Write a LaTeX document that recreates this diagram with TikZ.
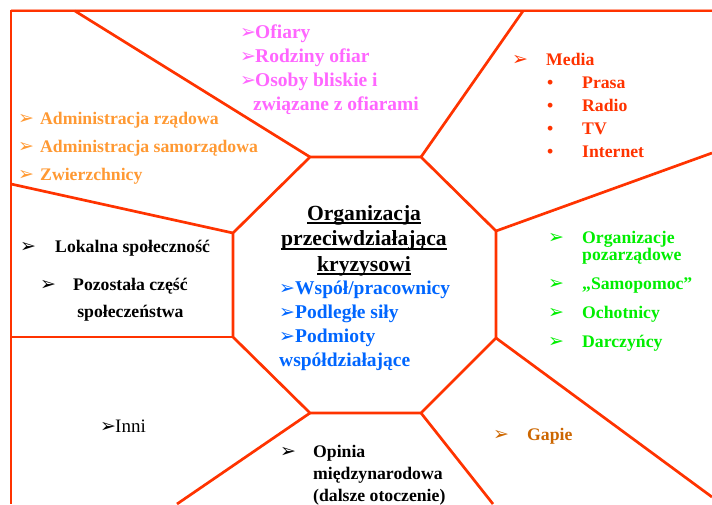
\documentclass[tikz,border=0pt]{standalone}
\definecolor{lineRed}{RGB}{255, 51, 0}
\definecolor{adminOrange}{RGB}{255, 153, 51}
\definecolor{victimPink}{RGB}{255, 102, 255}
\definecolor{mediaRed}{RGB}{255, 51, 0}
\definecolor{orgBlue}{RGB}{0, 102, 255}
\definecolor{ngoGreen}{RGB}{0, 238, 0}
\definecolor{gapieBrown}{RGB}{204, 102, 0}
\usepackage{fontspec}
\setmainfont{Liberation Serif}
\newfontfamily\symfont{DejaVu Sans}
\usepackage{tikz}
\usetikzlibrary{positioning}

\newcommand{\arrhd}{{\symfont\fontsize{19}{19}\selectfont ➢}}
\newcommand{\bitem}[2]{\makebox[#1][l]{\arrhd}#2}
\newcommand{\uln}[1]{\setbox0\hbox{#1}\rlap{\rule[-4pt]{\wd0}{1.6pt}}\box0}

\begin{document}
\begin{tikzpicture}[
    x=1pt, y=-1pt,
    frameline/.style={draw=lineRed, line width=2.7pt},
    octline/.style={draw=lineRed, line width=2.7pt, line join=miter},
    itembox/.style={inner sep=0pt, anchor=base west, align=left,
                    font=\bfseries\fontsize{17.7}{23}\selectfont},
  ]
    \useasboundingbox (0,0) rectangle (712,504);

    % frame
    \draw[draw=lineRed!45, line width=1pt] (11,9) -- (712,9);
    \draw[frameline] (712,11) -- (11,11) -- (11,504);

    % octagon corners
    \coordinate (V1) at (310,157);
    \coordinate (V2) at (421,157);
    \coordinate (V3) at (496,231);
    \coordinate (V4) at (496,338);
    \coordinate (V5) at (421,413);
    \coordinate (V6) at (310,413);
    \coordinate (V7) at (233,337);
    \coordinate (V8) at (233,233);

    % spoke ends
    \coordinate (E1) at (75,11);
    \coordinate (E2) at (523,11);
    \coordinate (E3) at (712,153);
    \coordinate (E4) at (712,497);
    \coordinate (E5) at (493,504);
    \coordinate (E6) at (177,504);
    \coordinate (E7) at (11,337);
    \coordinate (E8) at (11,184);

    \draw[octline] (V1) -- (V2) -- (V3) -- (V4) -- (V5) -- (V6) -- (V7) -- (V8) -- cycle;
    \foreach \i in {1,...,8}
      \draw[octline] (V\i) -- (E\i);

    % Administracja (placed at last baseline)
    \node[itembox, text=adminOrange, font=\bfseries\fontsize{17.7}{28}\selectfont] (ADMIN) at (18,180) {
      \bitem{22pt}{Administracja rządowa}\\
      \bitem{22pt}{Administracja samorządowa}\\
      \bitem{22pt}{Zwierzchnicy}
    };

    % Ofiary
    \node[itembox, text=victimPink, font=\bfseries\fontsize{19.5}{24}\selectfont] (OFIARY) at (240,110) {
      \bitem{15pt}{Ofiary}\\
      \bitem{15pt}{Rodziny ofiar}\\
      \bitem{15pt}{Osoby bliskie i}\\
      \hspace*{13pt}związane z ofiarami
    };

    % Media
    \node[itembox, text=mediaRed] (MEDIA) at (512,157) {
      \bitem{34pt}{Media}\\
      \hspace*{35pt}\makebox[35pt][l]{•}Prasa\\
      \hspace*{35pt}\makebox[35pt][l]{•}Radio\\
      \hspace*{35pt}\makebox[35pt][l]{•}TV\\
      \hspace*{35pt}\makebox[35pt][l]{•}Internet
    };

    % Lokalna spolecznosc
    \node[itembox] (LOKAL) at (20,252) {\bitem{35pt}{Lokalna społeczność}};

    \node[itembox] (POZOST) at (40,290) {
      \bitem{33pt}{\begin{tabular}[t]{@{}c@{}}Pozostała część\\[4pt] społeczeństwa\end{tabular}}
    };

    % Organizacja
    \node[inner sep=0pt, anchor=base, align=center,
          font=\bfseries\fontsize{21.6}{25.5}\selectfont] (ORG) at (364,271) {
      \uln{Organizacja}\\
      \uln{przeciwdziałająca}\\
      \uln{kryzysowi}
    };

    \node[itembox, text=orgBlue, font=\bfseries\fontsize{19.5}{24}\selectfont] (WSPOL) at (279,366) {
      \bitem{16pt}{Współ/pracownicy}\\
      \bitem{16pt}{Podległe siły}\\
      \bitem{16pt}{Podmioty}\\
      współdziałające
    };

    % Organizacje pozarzadowe
    \node[itembox, text=ngoGreen, font=\bfseries\fontsize{17.7}{16}\selectfont] (NGO) at (548,347) {
      \bitem{34pt}{Organizacje}\\
      \hspace*{34pt}pozarządowe\\[13pt]
      \bitem{34pt}{„Samopomoc”}\\[12pt]
      \bitem{34pt}{Ochotnicy}\\[11pt]
      \bitem{34pt}{Darczyńcy}
    };

    % Inni
    \node[itembox, font=\fontsize{19}{23}\selectfont] (INNI) at (100,432) {\bitem{15pt}{Inni}};

    % Opinia
    \node[itembox, font=\bfseries\fontsize{17.7}{22}\selectfont] (OPINIA) at (280,501) {
      \bitem{33pt}{Opinia}\\
      \hspace*{33pt}międzynarodowa\\
      \hspace*{33pt}(dalsze otoczenie)
    };

    % Gapie
    \node[itembox, text=gapieBrown] (GAPIE) at (493,440) {\bitem{34pt}{Gapie}};
  \end{tikzpicture}
\end{document}
